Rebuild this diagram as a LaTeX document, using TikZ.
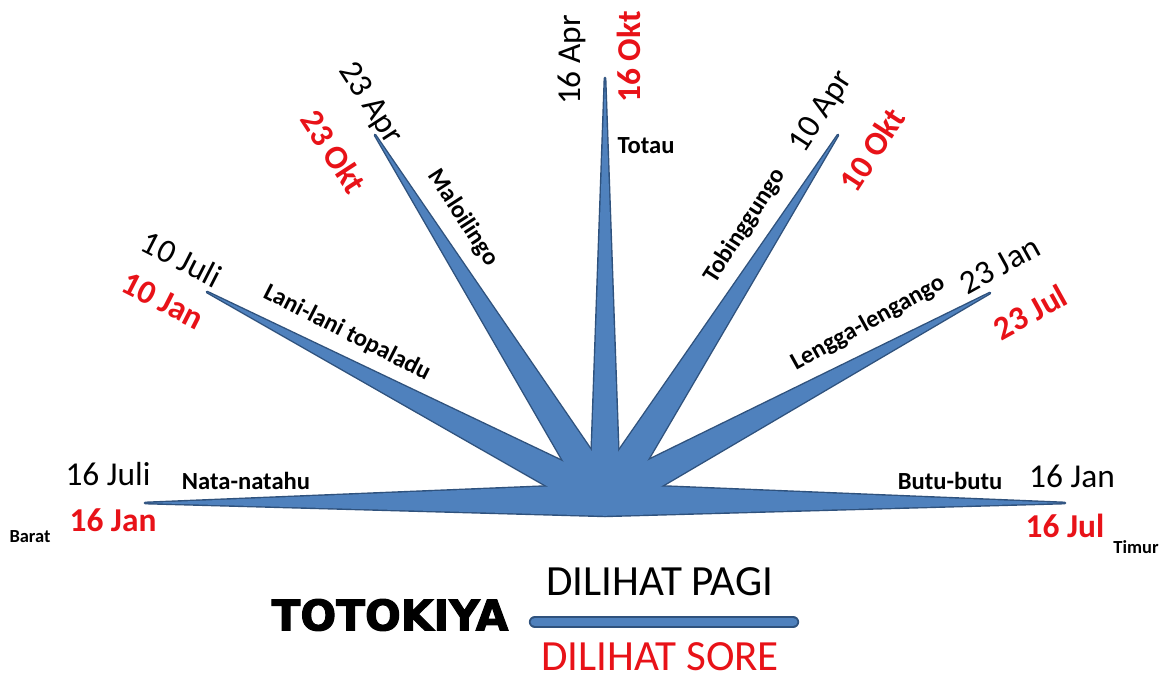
\documentclass[tikz,border=0pt]{standalone}
\usepackage{fontspec}
\setmainfont{Carlito}
\newfontfamily\heavyfont{DejaVu Sans}[BoldFeatures={FakeBold=2.5}]
\usetikzlibrary{calc}
\usetikzlibrary{positioning}

\definecolor{spokeblue}{RGB}{79,129,189}
\definecolor{spokeedge}{RGB}{47,82,125}
\definecolor{datered}{RGB}{232,18,24}

\tikzset{
  pagi/.style={font=\fontsize{19}{21}\selectfont, text=black, inner sep=0pt},
  sore/.style={font=\fontsize{19}{21}\selectfont\bfseries, text=datered, inner sep=0pt},
  spokename/.style={font=\fontsize{14}{16}\selectfont\bfseries, inner sep=0pt},
  compass/.style={font=\fontsize{10.5}{12}\selectfont\bfseries, inner sep=0pt},
  legendtext/.style={font=\fontsize{24.5}{26}\selectfont, inner sep=0pt},
}

\begin{document}
\begin{tikzpicture}[x=0.02cm,y=-0.02cm]
  \useasboundingbox (0,0) rectangle (1174,679);

  % hub and spoke tips
  \coordinate (hub) at (605,500);
  \coordinate (tW)  at (145,503);
  \coordinate (tLL) at (207,292);
  \coordinate (tML) at (375,135);
  \coordinate (tN)  at (605,78);
  \coordinate (tTB) at (838,135);
  \coordinate (tLE) at (990,293);
  \coordinate (tE)  at (1065,503);

  % outline first, then fill on top so only the outer edge shows
  \foreach \t/\w in {tW/9pt,tLL/9.5pt,tML/9.5pt,tN/8.5pt,tTB/9.5pt,tLE/9.5pt,tE/9pt}
    \draw[spokeedge, line width=1.6pt, line join=round]
      (\t) -- ($(hub)!\w!90:(\t)$) -- ($(hub)!\w!-90:(\t)$) -- cycle;
  \foreach \t/\w in {tW/9pt,tLL/9.5pt,tML/9.5pt,tN/8.5pt,tTB/9.5pt,tLE/9.5pt,tE/9pt}
    \fill[spokeblue]
      (\t) -- ($(hub)!\w!90:(\t)$) -- ($(hub)!\w!-90:(\t)$) -- cycle;

  % west
  \node[pagi] (pW) at (108,474) {16 Juli};
  \node[sore] (sW) at (113,520) {16 Jan};
  \node[compass] (barat) at (30,537) {Barat};
  \node[spokename] (nW) at (246,481) {Nata-natahu};

  % north-west
  \node[pagi, rotate=-27] (pLL) at (182,259) {10 Juli};
  \node[sore, rotate=-27] (sLL) at (163,301) {10 Jan};
  \node[spokename, rotate=-27] (nLL) at (347,333) {Lani-lani topaladu};

  % north-north-west
  \node[pagi, rotate=-57] (pML) at (370,104) {23 Apr};
  \node[sore, rotate=-57] (sML) at (334,152) {23 Okt};
  \node[spokename, rotate=-57] (nML) at (463,218) {Maloilingo};

  % north
  \node[pagi, rotate=90] (pN) at (572,60) {16 Apr};
  \node[sore, rotate=90] (sN) at (629,57) {16 Okt};
  \node[spokename] (nN) at (646,146) {Totau};

  % north-north-east
  \node[pagi, rotate=57] (pTB) at (822,112) {10 Apr};
  \node[sore, rotate=57] (sTB) at (872,150) {10 Okt};
  \node[spokename, rotate=57] (nTB) at (745,226) {Tobinggungo};

  % north-east
  \node[pagi, rotate=29] (pLE) at (1000,265) {23 Jan};
  \node[sore, rotate=29] (sLE) at (1030,312) {23 Jul};
  \node[spokename, rotate=29] (nLE) at (868,323) {Lengga-lengango};

  % east
  \node[pagi] (pE) at (1072,476) {16 Jan};
  \node[sore] (sE) at (1065,526) {16 Jul};
  \node[compass] (timur) at (1136,547) {Timur};
  \node[spokename] (nE) at (950,481) {Butu-butu};

  % legend
  \node[font=\heavyfont\bfseries\fontsize{24}{26}\selectfont, inner sep=0pt] (toto) at (390,615) {TOTOKIYA};
  \coordinate (barL) at (535,622);
  \coordinate (barR) at (793,622);
  \draw[spokeedge, line width=7pt, line cap=round] (barL) -- (barR);
  \draw[spokeblue, line width=5pt, line cap=round] (barL) -- (barR);
  \node[legendtext] (pagi) at (660,582) {DILIHAT PAGI};
  \node[legendtext, text=datered] (sore) at (660,657) {DILIHAT SORE};
\end{tikzpicture}
\end{document}
